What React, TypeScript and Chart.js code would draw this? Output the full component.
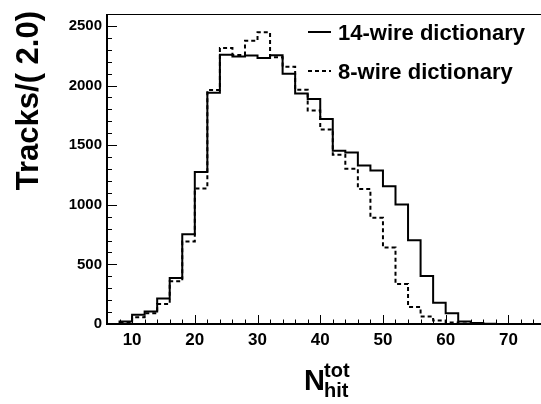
import React, { useEffect, useRef } from "react";
import { Chart, registerables } from "chart.js";

Chart.register(...registerables);

// ---- data ----
const binLow = [6, 8, 10, 12, 14, 16, 18, 20, 22, 24, 26, 28, 30, 32, 34, 36, 38, 40, 42, 44, 46, 48, 50, 52, 54, 56, 58, 60, 62, 64, 66, 68, 70, 72, 74];
const binWidth = 2;
const wire14 = [0, 20, 77, 104, 214, 385, 753, 1275, 1940, 2259, 2243, 2251, 2230, 2254, 2098, 1934, 1887, 1720, 1453, 1439, 1330, 1288, 1155, 1002, 703, 402, 178, 90, 22, 8, 3, 0, 0, 0, 0];
const wire8 = [0, 12, 57, 90, 167, 359, 692, 1137, 1962, 2314, 2257, 2375, 2446, 2238, 2158, 1964, 1791, 1632, 1420, 1302, 1133, 891, 641, 335, 142, 63, 30, 13, 5, 2, 0, 0, 0, 0, 0];
const seriesNames = ["14-wire dictionary", "8-wire dictionary"];
const xTickValues = [10, 20, 30, 40, 50, 60, 70];
const yTickValues = [0, 500, 1000, 1500, 2000, 2500];
const yTitle = "Tracks/( 2.0)";
const xTitleMain = "N";
const xTitleSup = "tot";
const xTitleSub = "hit";

const FONT = '"Liberation Sans", Arial, Helvetica, sans-serif';

function toSteps(vals: number[]) {
  const pts = vals.map((v, i) => ({ x: binLow[i], y: v }));
  pts.push({ x: binLow[binLow.length - 1] + binWidth, y: vals[vals.length - 1] });
  return pts;
}

const framePlugin = {
  id: "rootFrame",
  afterDraw(chart: any) {
    const { ctx, chartArea } = chart;
    const { left, right, top, bottom } = chartArea;
    const xs = chart.scales.x;
    const ys = chart.scales.y;
    ctx.save();
    ctx.strokeStyle = "#000";
    ctx.fillStyle = "#000";
    // top frame line
    ctx.lineWidth = 1;
    ctx.beginPath();
    ctx.moveTo(left, top + 0.5);
    ctx.lineTo(right, top + 0.5);
    ctx.stroke();
    // axes
    ctx.lineWidth = 2;
    ctx.beginPath();
    ctx.moveTo(left, top);
    ctx.lineTo(left, bottom);
    ctx.lineTo(right, bottom);
    ctx.stroke();
    // x ticks
    ctx.lineWidth = 1;
    ctx.beginPath();
    for (let v = 6; v <= xs.max; v += 2) {
      const px = Math.round(xs.getPixelForValue(v)) + 0.5;
      const len = v % 10 === 0 ? 9 : 4.5;
      ctx.moveTo(px, bottom);
      ctx.lineTo(px, bottom - len);
    }
    // y ticks
    for (let v = 0; v <= ys.max; v += 100) {
      const py = Math.round(ys.getPixelForValue(v)) + 0.5;
      const len = v % 500 === 0 ? 10 : 5;
      ctx.moveTo(left, py);
      ctx.lineTo(left + len, py);
    }
    ctx.stroke();

    // y title
    ctx.save();
    ctx.translate(38, top - 3);
    ctx.rotate(-Math.PI / 2);
    ctx.font = `bold 31px ${FONT}`;
    ctx.textAlign = "right";
    ctx.textBaseline = "alphabetic";
    ctx.fillText(yTitle, 0, 0);
    ctx.restore();

    // x title
    ctx.textAlign = "left";
    ctx.textBaseline = "alphabetic";
    ctx.font = `bold 29px ${FONT}`;
    ctx.fillText(xTitleMain, 304, 390);
    ctx.font = `bold 20px ${FONT}`;
    ctx.fillText(xTitleSup, 324, 377);
    ctx.fillText(xTitleSub, 324, 397);

    // legend
    ctx.lineWidth = 2;
    ctx.setLineDash([]);
    ctx.beginPath();
    ctx.moveTo(308, 32);
    ctx.lineTo(331, 32);
    ctx.stroke();
    ctx.setLineDash([4, 3]);
    ctx.beginPath();
    ctx.moveTo(308, 71);
    ctx.lineTo(331, 71);
    ctx.stroke();
    ctx.setLineDash([]);
    ctx.font = `bold 22px ${FONT}`;
    ctx.fillText(seriesNames[0], 338, 40);
    ctx.fillText(seriesNames[1], 338, 79);
    ctx.restore();
  },
};

export default function App() {
  const ref = useRef<HTMLCanvasElement | null>(null);
  useEffect(() => {
    if (!ref.current) return;
    const chart = new Chart(ref.current, {
      type: "line",
      data: {
        datasets: [
          {
            label: seriesNames[0],
            data: toSteps(wire14),
            stepped: "before",
            borderColor: "#000",
            borderWidth: 2,
            pointRadius: 0,
            fill: false,
          },
          {
            label: seriesNames[1],
            data: toSteps(wire8),
            stepped: "before",
            borderColor: "#000",
            borderWidth: 2,
            borderDash: [4, 3],
            pointRadius: 0,
            fill: false,
          },
        ],
      },
      options: {
        responsive: false,
        animation: false,
        layout: { padding: { top: 8, left: 0, right: 0, bottom: 0 } },
        plugins: { legend: { display: false }, tooltip: { enabled: false } },
        scales: {
          x: {
            type: "linear",
            min: 6,
            max: 75.2,
            grid: { display: false, drawTicks: false },
            border: { display: false },
            afterBuildTicks: (s: any) => {
              s.ticks = xTickValues.map((v) => ({ value: v }));
            },
            afterFit: (s: any) => {
              s.height = 80;
            },
            ticks: {
              autoSkip: false,
              maxRotation: 0,
              padding: 6,
              color: "#000",
              font: { family: FONT, size: 17, weight: "bold" },
              callback: (v: any) => String(v),
            },
          },
          y: {
            type: "linear",
            min: 0,
            max: 2600,
            grid: { display: false, drawTicks: false },
            border: { display: false },
            afterBuildTicks: (s: any) => {
              s.ticks = yTickValues.map((v) => ({ value: v }));
            },
            afterFit: (s: any) => {
              s.width = 107;
            },
            ticks: {
              autoSkip: false,
              padding: 5,
              color: "#000",
              font: { family: FONT, size: 15, weight: "bold" },
              callback: (v: any) => String(v),
            },
          },
        },
      } as any,
      plugins: [framePlugin],
    });
    return () => chart.destroy();
  }, []);
  return (
    <div style={{ position: "fixed", left: 0, top: 0, width: 541, height: 404, background: "#fff" }}>
      <canvas ref={ref} width={541} height={404} style={{ width: 541, height: 404, display: "block" }} />
    </div>
  );
}
